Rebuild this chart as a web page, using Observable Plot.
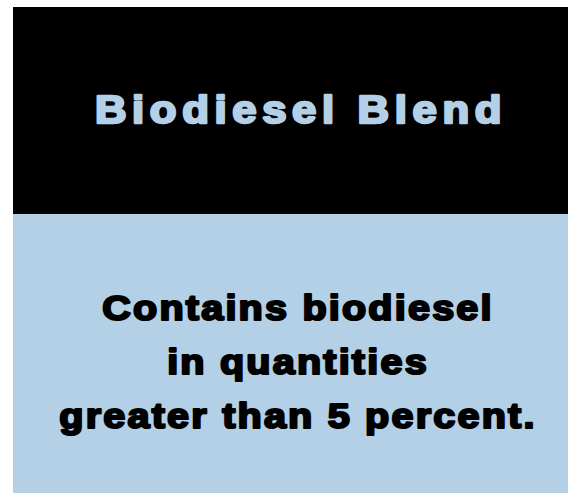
<!DOCTYPE html>
<html>
<head>
<meta charset="utf-8">
<script src="https://cdn.jsdelivr.net/npm/d3@7"></script>
<script src="https://cdn.jsdelivr.net/npm/@observablehq/plot@0.6"></script>
<style>
  html, body { margin: 0; padding: 0; background: #ffffff; }
  #chart svg { display: block; }
</style>
</head>
<body>
<div id="chart"></div>
<script>
// Content of the sign
const panels = ["header", "body"];
const titleLines = ["Biodiesel Blend"];
const bodyLines = ["Contains biodiesel", "in quantities", "greater than 5 percent."];

const W = 568, H = 493;
const LIGHT_BLUE = "#b4d0e6";

// layout (pixel space via identity-like scales)
const panelBox = {
  header: {x1: 13, x2: 568, y1: 7, y2: 214, fill: "#000000"},
  body:   {x1: 13, x2: 568, y1: 214, y2: 493, fill: LIGHT_BLUE}
};

const chart = Plot.plot({
  width: W,
  height: H,
  margin: 0,
  style: {background: "#ffffff", overflow: "visible"},
  x: {domain: [0, W], range: [0, W], axis: null},
  y: {domain: [0, H], range: [0, H], axis: null},
  marks: [
    Plot.rect(panels, {
      x1: d => panelBox[d].x1,
      x2: d => panelBox[d].x2,
      y1: d => panelBox[d].y1,
      y2: d => panelBox[d].y2,
      fill: d => panelBox[d].fill,
      inset: 0
    }),
    Plot.text(titleLines, {
      x: () => 300.5,
      y: () => 122,
      text: d => d,
      fill: LIGHT_BLUE,
      stroke: LIGHT_BLUE,
      strokeWidth: 2.4,
      fontSize: 38,
      fontWeight: "bold",
      fontFamily: "'Liberation Sans', Arial, sans-serif",
      textAnchor: "middle",
      lineAnchor: "bottom",
      className: "title-text"
    }),
    Plot.text([bodyLines.join("\n")], {
      x: () => 297.5,
      y: () => 427,
      text: d => d,
      fill: "#000000",
      stroke: "#000000",
      strokeWidth: 2.2,
      fontSize: 36,
      fontWeight: "bold",
      lineHeight: 1.5,
      fontFamily: "'Liberation Sans', Arial, sans-serif",
      textAnchor: "middle",
      lineAnchor: "bottom",
      className: "body-text"
    })
  ]
});

document.getElementById("chart").appendChild(chart);
d3.select(chart).selectAll(".title-text text")
  .style("letter-spacing", "4.9px")
  .attr("transform", function () {
    return (this.getAttribute("transform") || "") + " scale(1.15,1)";
  });
d3.select(chart).selectAll(".body-text text")
  .style("letter-spacing", "2px")
  .attr("transform", function () {
    return (this.getAttribute("transform") || "") + " scale(1.1,1)";
  });
</script>
</body>
</html>
